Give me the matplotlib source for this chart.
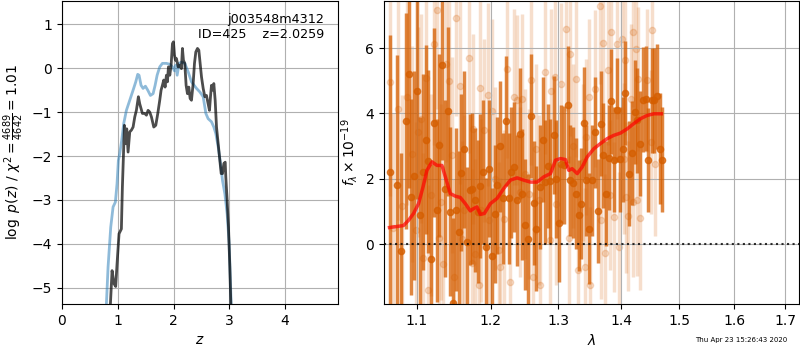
import matplotlib
matplotlib.use("Agg")
import matplotlib.pyplot as plt
from matplotlib.ticker import FixedLocator, FormatStrFormatter, NullLocator

# ---------------- left panel: redshift PDF ----------------
z_black = [0.855, 0.868, 0.898, 0.934, 0.963, 0.987, 1.023, 1.065, 1.083, 1.107, 1.119,
           1.143, 1.161, 1.185, 1.215, 1.245, 1.275, 1.305, 1.334, 1.370, 1.394, 1.442,
           1.484, 1.514, 1.544, 1.574, 1.604, 1.646, 1.682, 1.718, 1.753, 1.777, 1.801,
           1.825, 1.849, 1.873, 1.891, 1.909, 1.933, 1.957, 1.981, 1.999, 2.017, 2.035,
           2.053, 2.083, 2.113, 2.142, 2.160, 2.178, 2.202, 2.226, 2.250, 2.274, 2.298,
           2.322, 2.352, 2.376, 2.400, 2.430, 2.454, 2.472, 2.502, 2.532, 2.562, 2.591,
           2.621, 2.645, 2.663, 2.681, 2.699, 2.723, 2.747, 2.771, 2.801, 2.831, 2.855,
           2.879, 2.903, 2.927, 2.938, 2.962, 2.986, 3.010, 3.028, 3.040]
logp_black = [-7.0, -5.38, -4.61, -4.91, -4.97, -4.46, -3.77, -3.66, -2.71, -1.79, -1.30,
              -1.72, -1.38, -1.91, -1.45, -1.41, -1.34, -1.11, -0.96, -0.65, -0.81, -1.03,
              -1.03, -1.07, -0.96, -1.00, -1.11, -1.34, -1.30, -1.03, -0.73, -0.50, -0.39,
              -0.27, -0.43, -0.16, -0.31, 0.03, -0.16, 0.07, 0.56, 0.60, 0.30, 0.18,
              0.22, 0.03, 0.07, -0.01, 0.45, 0.18, 0.11, -0.39, -0.58, -0.43, -0.69,
              -0.73, -0.35, 0.11, 0.37, 0.45, 0.41, 0.18, -0.20, -0.46, -0.65, -0.62,
              -0.81, -0.96, -0.65, -0.39, -0.50, -0.35, -0.73, -1.34, -1.72, -2.10, -2.40,
              -2.40, -2.17, -2.14, -2.48, -3.01, -3.62, -4.53, -5.38, -7.0]

z_blue = [0.780, 0.796, 0.826, 0.874, 0.916, 0.957, 0.987, 1.011, 1.035, 1.071, 1.107,
          1.155, 1.215, 1.275, 1.323, 1.358, 1.382, 1.418, 1.454, 1.496, 1.538, 1.586,
          1.634, 1.670, 1.706, 1.753, 1.801, 1.873, 1.933, 1.981, 2.017, 2.041, 2.065,
          2.101, 2.142, 2.202, 2.262, 2.322, 2.412, 2.472, 2.532, 2.580, 2.621, 2.681,
          2.723, 2.759, 2.801, 2.843, 2.879, 2.921, 2.962, 2.998, 3.022, 3.034, 3.045]
logp_blue = [-7.5, -5.38, -4.53, -3.62, -3.16, -3.05, -2.63, -2.10, -1.95, -1.64, -1.26,
             -0.96, -0.73, -0.50, -0.31, -0.14, -0.16, -0.39, -0.46, -0.41, -0.50, -0.62,
             -0.58, -0.39, -0.16, 0.03, 0.11, 0.11, 0.09, 0.03, -0.06, 0.07, -0.16,
             0.11, 0.14, 0.11, -0.08, -0.31, -0.46, -0.54, -0.65, -1.03, -1.15, -1.22,
             -1.34, -1.49, -1.79, -2.17, -2.56, -2.86, -3.32, -4.00, -4.91, -5.38, -7.5]

# ---------------- right panel: spectrum ----------------
dark_wave = [1.0658, 1.0747, 1.0789, 1.0853, 1.0891, 1.0926, 1.0965, 1.0995, 1.1037, 1.1076,
             1.1115, 1.1148, 1.1181, 1.1223, 1.1258, 1.1294, 1.1330, 1.1365, 1.1405, 1.1442,
             1.1482, 1.1516, 1.1555, 1.1592, 1.1633, 1.1670, 1.1706, 1.1743, 1.1785, 1.1822,
             1.1855, 1.1897, 1.1935, 1.1981, 1.2019, 1.2059, 1.2095, 1.2138, 1.2177, 1.2214,
             1.2258, 1.2297, 1.2336, 1.2377, 1.2418, 1.2458, 1.2502, 1.2542, 1.2581, 1.2625,
             1.2666, 1.2715, 1.2761, 1.2801, 1.2839, 1.2877, 1.2928, 1.2969, 1.3004, 1.3046,
             1.3092, 1.3150, 1.3181, 1.3225, 1.3268, 1.3316, 1.3355, 1.3394, 1.3437, 1.3480,
             1.3528, 1.3570, 1.3618, 1.3667, 1.3710, 1.3754, 1.3796, 1.3840, 1.3890, 1.3934,
             1.3980, 1.4027, 1.4071, 1.4126, 1.4177, 1.4234, 1.4267, 1.4318, 1.4369, 1.4413,
             1.4454, 1.4516, 1.4550, 1.4614, 1.4654, 1.4701]
dark_flux = [2.20, 1.80, -0.20, 3.76, 5.21, 1.45, 2.09, 4.68, 0.89, 2.20,
             3.20, 2.54, -0.46, 3.72, 1.04, 3.02, 5.47, 1.70, 4.06, 1.00,
             -1.81, 1.06, 0.36, 2.19, 2.90, 0.07, 1.67, 1.70, 1.34, 1.00,
             1.77, 2.20, -0.08, 2.31, -0.37, 0.92, 1.80, 3.00, 1.40, 3.77,
             1.40, 2.20, 2.36, 1.34, 3.38, 1.53, 0.60, 0.15, 3.92, 1.26,
             0.48, 1.75, 3.20, 1.90, 2.40, 1.92, 3.35, 2.00, 0.65, 2.46,
             2.42, 4.27, 1.96, 1.88, 1.55, 0.89, 1.24, 3.72, 1.96, 0.47,
             1.96, 3.43, 1.01, 3.69, 2.72, 1.55, 2.65, 4.37, 2.59, 4.11,
             2.60, 2.90, 4.62, 2.16, 2.79, 4.04, 3.79, 3.08, 4.42, 4.45,
             2.57, 4.40, 4.40, 4.52, 2.92, 2.59]
dark_err = [4.2, 4.0, 3.0, 3.3, 3.5, 3.0, 3.2, 3.3, 3.0, 3.0,
            2.9, 2.8, 2.9, 2.9, 2.8, 2.8, 2.9, 2.7, 2.6, 2.6,
            2.6, 2.5, 2.5, 2.4, 2.4, 2.3, 2.3, 2.3, 2.2, 2.2,
            2.2, 2.2, 2.1, 2.1, 2.1, 2.1, 2.1, 2.0, 2.0, 2.0,
            2.0, 2.0, 2.0, 2.0, 2.0, 2.0, 2.0, 2.0, 1.9, 1.9,
            1.9, 1.9, 1.9, 1.9, 1.9, 1.9, 1.8, 1.8, 1.8, 1.8,
            1.8, 1.8, 1.7, 1.7, 1.7, 1.7, 1.7, 1.7, 1.7, 1.7,
            1.7, 1.7, 1.6, 1.6, 1.6, 1.6, 1.6, 1.6, 1.6, 1.6,
            1.6, 1.6, 1.6, 1.6, 1.6, 1.6, 1.6, 1.6, 1.6, 1.6,
            1.6, 1.6, 1.6, 1.6, 1.7, 1.6]

light_wave = [1.0658, 1.0696, 1.0760, 1.0810, 1.0870, 1.0930, 1.0990, 1.1016, 1.1052, 1.1076,
              1.1113, 1.1143, 1.1180, 1.1224, 1.1262, 1.1290, 1.1320, 1.1350, 1.1380, 1.1420,
              1.1460, 1.1490, 1.1520, 1.1570, 1.1600, 1.1623, 1.1692, 1.1739, 1.1753, 1.1785,
              1.1831, 1.1855, 1.1864, 1.1901, 1.1957, 1.1972, 1.2020, 1.2060, 1.2114, 1.2138,
              1.2186, 1.2235, 1.2283, 1.2331, 1.2380, 1.2418, 1.2460, 1.2502, 1.2551, 1.2591,
              1.2617, 1.2660, 1.2701, 1.2715, 1.2791, 1.2867, 1.2893, 1.2943, 1.2969, 1.3046,
              1.3113, 1.3161, 1.3175, 1.3230, 1.3279, 1.3300, 1.3380, 1.3420, 1.3437, 1.3480,
              1.3490, 1.3570, 1.3650, 1.3678, 1.3705, 1.3730, 1.3787, 1.3813, 1.3840, 1.3885,
              1.3939, 1.3967, 1.4010, 1.4050, 1.4066, 1.4080, 1.4121, 1.4160, 1.4200, 1.4205,
              1.4244, 1.4260, 1.4289, 1.4311, 1.4430, 1.4499, 1.4528, 1.4567]
light_flux = [4.96, 0.50, 4.14, 1.16, 4.50, 2.75, 0.43, 3.43, 3.84, -0.42,
              5.09, -1.40, 1.50, 6.13, 7.15, 0.20, 1.29, -0.60, 5.50, 4.98,
              2.72, -1.00, 6.92, 4.84, 0.17, 1.04, 5.70, -0.59, 3.53, -0.29,
              -1.25, 4.79, 1.04, 3.48, 4.57, 0.73, 4.09, 2.00, -0.18, -0.69,
              0.78, 5.35, -1.15, 4.50, 4.42, 1.60, 4.45, 2.16, 1.55, 5.03,
              -1.00, 2.90, 1.36, -1.25, 5.26, 0.12, 4.70, 5.11, 1.24, 4.89,
              6.59, 0.20, 5.82, 3.00, 5.06, -0.79, 2.50, -0.69, 3.28, 4.50,
              -1.25, 4.76, 7.30, 0.73, 6.16, -0.26, 5.32, 1.50, 6.49, 0.83,
              6.13, -0.10, 6.28, 2.62, 5.64, 1.43, 0.86, 4.45, 1.29, 6.49,
              5.98, 1.34, 5.06, 0.81, 5.01, 3.13, 6.56, 2.44]
light_err = [3.5, 3.5, 3.4, 3.4, 3.3, 3.3, 3.3, 3.2, 3.2, 3.2,
             3.2, 3.2, 3.1, 3.1, 3.0, 3.0, 3.0, 3.0, 3.0, 3.0,
             3.0, 3.0, 3.0, 3.0, 3.0, 2.9, 2.9, 2.9, 2.9, 2.9,
             2.9, 2.8, 2.8, 2.8, 2.8, 2.8, 2.8, 2.8, 2.7, 2.7,
             2.7, 2.7, 2.7, 2.7, 2.6, 2.6, 2.6, 2.6, 2.6, 2.6,
             2.6, 2.6, 2.6, 2.6, 2.5, 2.5, 2.5, 2.5, 2.5, 2.5,
             2.5, 2.5, 2.5, 2.5, 2.4, 2.4, 2.4, 2.4, 2.4, 2.4,
             2.4, 2.4, 2.4, 2.4, 2.4, 2.4, 2.3, 2.3, 2.3, 2.3,
             2.3, 2.3, 2.3, 2.3, 2.3, 2.3, 2.3, 2.3, 2.3, 2.3,
             2.3, 2.3, 2.2, 2.2, 2.2, 2.2, 2.2, 2.2]

model_wave = [1.0649, 1.0826, 1.0891, 1.0956, 1.1021, 1.1079, 1.1131, 1.1197, 1.1264, 1.1330,
              1.1388, 1.1442, 1.1510, 1.1578, 1.1647, 1.1716, 1.1762, 1.1809, 1.1856, 1.1912,
              1.1997, 1.2092, 1.2187, 1.2284, 1.2382, 1.2479, 1.2578, 1.2678, 1.2778, 1.2880,
              1.2956, 1.3033, 1.3110, 1.3161, 1.3214, 1.3293, 1.3371, 1.3451, 1.3556, 1.3664,
              1.3773, 1.3880, 1.3991, 1.4102, 1.4213, 1.4326, 1.4440, 1.4553, 1.4681]
model_flux = [0.51, 0.57, 0.73, 0.94, 1.24, 1.75, 2.26, 2.52, 2.41, 2.41,
              1.96, 1.55, 1.47, 1.43, 1.24, 1.02, 1.09, 1.14, 0.91, 0.94,
              1.24, 1.40, 1.70, 1.96, 2.03, 1.96, 1.90, 1.90, 2.06, 2.16,
              2.57, 2.62, 2.59, 2.26, 2.31, 2.16, 2.36, 2.67, 2.92, 3.08,
              3.23, 3.33, 3.40, 3.53, 3.69, 3.84, 3.94, 3.99, 3.99]

lam_ticks = [1.1, 1.2, 1.3, 1.4, 1.5, 1.6, 1.7]

obj_name = "j003548m4312"
obj_id = 425
z_best = 2.0259
timestamp = "Thu Apr 23 15:26:43 2020"

grism_color = (0.835, 0.369, 0.0)

fig = plt.figure(figsize=(8, 3.5), dpi=100)
ax1 = fig.add_axes([0.0775, 0.1314, 0.345, 0.8657])
ax2 = fig.add_axes([0.48, 0.1314, 0.519, 0.8657])

# left panel
ax1.plot(z_blue, logp_blue, color='#1f77b4', alpha=0.5, lw=2)
ax1.plot(z_black, logp_black, color='k', alpha=0.7, lw=2)
ax1.set_xlim(0, 4.95)
ax1.set_ylim(-5.37, 1.53)
ax1.set_xticks([0, 1, 2, 3, 4])
ax1.set_yticks([-5, -4, -3, -2, -1, 0, 1])
ax1.grid(True)
ax1.set_xlabel(r'$z$')
ax1.set_ylabel(r'$\log\ p(z)$' + ' / ' + r'$\chi^2=\frac{4689}{4642}=1.01$')
ax1.text(0.95, 0.96, obj_name + '\n' + 'ID={0}    z={1:.4f}'.format(obj_id, z_best),
         transform=ax1.transAxes, ha='right', va='top', fontsize=9.2)

# right panel
ax2.errorbar(light_wave, light_flux, yerr=light_err, color=grism_color, alpha=0.2,
             marker='o', ms=4.5, ls='none', elinewidth=2.5, zorder=1)
ax2.errorbar(dark_wave, dark_flux, yerr=dark_err, color=grism_color, alpha=0.75,
             marker='o', ms=4.5, ls='none', elinewidth=2.5, zorder=2)
ax2.plot(model_wave, model_flux, color='r', alpha=0.7, lw=2.5, zorder=4)
ax2.axhline(0, color='k', ls=':', lw=1.5, alpha=0.8, zorder=5)
ax2.set_xscale('log')
ax2.set_xlim(1.058, 1.728)
ax2.set_ylim(-1.83, 7.44)
ax2.xaxis.set_major_locator(FixedLocator(lam_ticks))
ax2.xaxis.set_major_formatter(FormatStrFormatter('%.1f'))
ax2.xaxis.set_minor_locator(NullLocator())
ax2.set_yticks([0, 2, 4, 6])
ax2.grid(True)
ax2.set_xlabel(r'$\lambda$')
ax2.set_ylabel(r'$f_\lambda\times10^{-19}$')

fig.text(0.984, 0.029, timestamp, ha='right', va='center', fontsize=5)

fig.savefig('out.png', dpi=100)
